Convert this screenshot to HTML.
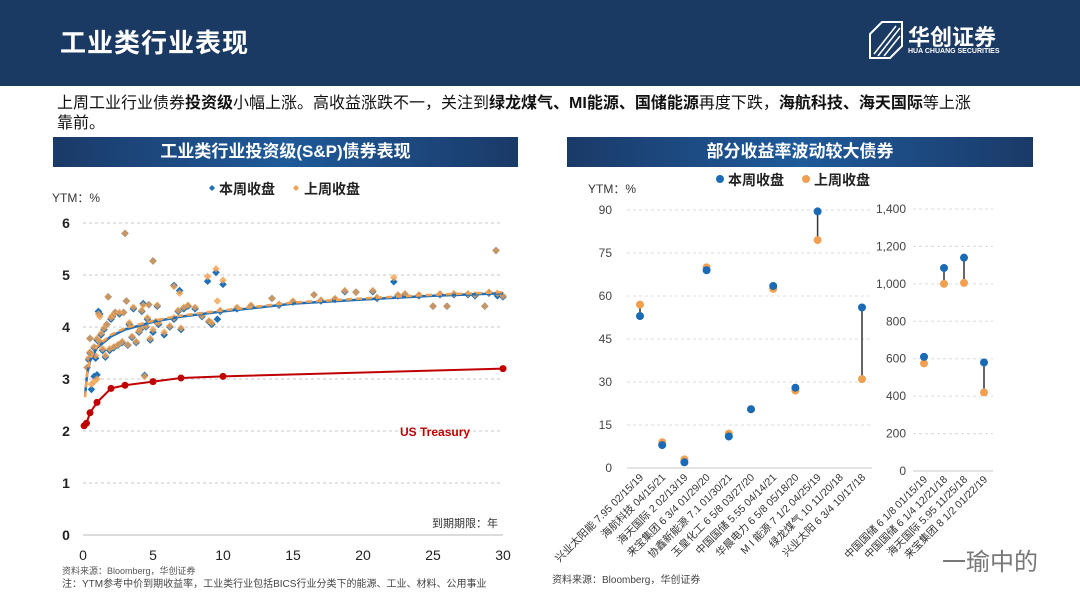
<!DOCTYPE html>
<html><head><meta charset="utf-8">
<style>
body{margin:0;width:1080px;height:608px;overflow:hidden;background:#fff;font-family:"Liberation Sans","Noto Sans CJK SC",sans-serif;position:relative}
.abs{position:absolute}
#header{left:0;top:0;width:1080px;height:86px;background:#1b3a63}
#title{left:60px;top:23px;color:#fff;font-size:26px;font-weight:bold;letter-spacing:1px}
.banner{top:137px;height:30px;background:linear-gradient(90deg,#1a3a68,#1f5a9a 50%,#1a3a68);color:#fff;font-size:17px;font-weight:bold;text-align:center;line-height:30px}
</style></head><body>
<div id="header" class="abs"></div>
<div id="title" class="abs">工业类行业表现</div>
<div class="abs" style="left:866px;top:20px;width:160px;height:40px">
 <svg width="40" height="40" style="position:absolute;left:0;top:0"><polygon points="4,38 4,14 16,2 36,2 36,26 24,38" fill="none" stroke="#fff" stroke-width="2"/><path d="M8 34 L30 6 M12 36 L34 8 M18 36 L34 16" stroke="#fff" stroke-width="1.5"/></svg>
 <div class="abs" style="left:42px;top:0;color:#fff;font-size:22px;font-weight:bold">华创证券</div>
 <div class="abs" style="left:42px;top:28px;color:#fff;font-size:7px;font-weight:bold;white-space:nowrap">HUA CHUANG SECURITIES</div>
</div>
<div class="abs" style="left:57px;top:94px;width:990px;font-size:16px;line-height:20px;color:#111;white-space:nowrap">上周工业行业债券<b>投资级</b>小幅上涨。高收益涨跌不一，关注到<b>绿龙煤气、MI能源、国储能源</b>再度下跌，<b>海航科技、海天国际</b>等上涨<br>靠前。</div>
<div class="abs banner" style="left:53px;width:465px">工业类行业投资级(S&amp;P)债券表现</div>
<div class="abs banner" style="left:567px;width:466px">部分收益率波动较大债券</div>
<svg id="chart" class="abs" style="left:0;top:0" width="1080" height="608"></svg>
<script>
// Left chart data
const mat=[3.0,5.0,29.5,9.5,8.9,10,6.5,6.9,22.2,1.8,3.1,4.3,4.7,1.1,1.2,2.3,2.9,13.5,16.5,18.7,19.5,20.7,25,26,28.7,30,0.8,1.0,0.6,4.4,0.3,0.4,0.5,0.5,0.8,1.0,1.3,1.5,1.7,2.0,2.1,1.4,1.6,1.9,2.2,2.5,2.8,3.2,3.5,3.8,4.0,4.2,4.5,4.8,5.0,5.2,5.4,5.8,6.2,6.5,6.8,7.0,7.2,7.5,8.0,8.5,9.0,9.2,9.6,9.8,11,12,14,15,17,18,21,22.5,23,24,25.5,26.5,27.5,28,29,29.6,0.9,1.2,2.6,3.3,3.6,4.1,4.6,5.3];
const ytmNow=[5.8,5.27,5.47,5.05,4.88,4.82,4.8,4.7,4.87,4.58,4.5,4.45,4.43,4.3,4.25,4.28,4.28,4.55,4.62,4.68,4.67,4.68,4.4,4.4,4.4,4.58,3.05,3.08,2.8,3.07,3.22,3.37,3.5,3.78,3.6,3.75,3.85,3.95,4.05,4.15,4.2,3.55,3.42,3.55,3.6,3.65,3.7,3.65,3.8,3.7,3.9,4.3,4.0,3.75,3.9,4.1,4.05,3.85,4.0,4.15,4.3,3.95,4.35,4.4,4.35,4.2,4.1,4.05,4.15,4.3,4.35,4.4,4.42,4.48,4.5,4.53,4.55,4.6,4.62,4.6,4.62,4.62,4.62,4.6,4.65,4.6,3.4,3.7,4.25,4.05,4.35,3.95,4.15,4.4];
const ytmPrev=[5.8,5.27,5.47,5.12,4.97,4.9,4.78,4.65,4.95,4.58,4.5,4.42,4.43,4.25,4.2,4.28,4.28,4.55,4.62,4.7,4.67,4.7,4.4,4.4,4.4,4.6,2.95,3.0,2.9,3.05,3.22,3.4,3.52,3.78,3.62,3.78,3.88,3.98,4.05,4.18,4.22,3.58,3.45,3.58,3.62,3.66,3.72,3.66,3.82,3.72,3.92,4.32,4.02,3.78,3.95,4.1,4.08,3.9,4.02,4.18,4.32,3.98,4.38,4.42,4.38,4.22,4.12,4.08,4.5,4.32,4.38,4.42,4.44,4.5,4.52,4.55,4.57,4.62,4.64,4.62,4.64,4.64,4.64,4.62,4.67,4.65,3.45,3.72,4.28,4.08,4.38,3.98,4.18,4.42];
const trendX=[0.15,0.3,0.5,1,2,3,5,7,10,15,20,25,30];
const trendNow=[2.7,3.1,3.35,3.6,3.82,3.95,4.1,4.2,4.3,4.45,4.53,4.6,4.65];
const trendPrev=[2.65,3.12,3.38,3.63,3.85,3.98,4.12,4.22,4.32,4.47,4.55,4.62,4.67];
const tsyX=[0.08,0.25,0.5,1,2,3,5,7,10,30];
const tsyY=[2.1,2.15,2.35,2.55,2.82,2.88,2.95,3.02,3.05,3.2];
const leftYTicks=[0,1,2,3,4,5,6];
const leftXTicks=[0,5,10,15,20,25,30];
// Right chart data
const bondsA=["兴业太阳能 7.95 02/15/19","海航科技  04/15/21","海天国际 2 02/13/19","来宝集团  6 3/4 01/29/20","协鑫新能源 7.1 01/30/21","玉皇化工  6 5/8 03/27/20","中国国储 5.55 04/14/21","华晨电力  6 5/8 05/18/20","M I 能源  7 1/2 04/25/19","绿龙煤气  10 11/20/18","兴业太阳 6 3/4 10/17/18"];
const nowA=[53,8,2,69,11,20.5,63.5,28,89.5,null,56];
const prevA=[57,9,3,70,12,20.5,62.5,27,79.5,null,31];
const bondsB=["中国国储 6 1/8 01/15/19","中国国储 6 1/4 12/21/18","海天国际 5.95 11/25/18","来宝集团 8 1/2 01/22/19"];
const nowB=[610,1085,1140,580];
const prevB=[575,1000,1005,420];
const ticksA=[0,15,30,45,60,75,90];
const ticksB=[0,200,400,600,800,1000,1200,1400];

const svg=document.getElementById('chart');const NS='http://www.w3.org/2000/svg';
function mk(t,a,txt){const e=document.createElementNS(NS,t);for(const k in a)e.setAttribute(k,a[k]);if(txt!==undefined)e.textContent=txt;svg.appendChild(e);return e;}
const BLUE='#1f6fb8',ORANGE='#f0a050',RED='#c00000';
const lx=v=>83+v*14, ly=v=>535-v*52;
leftYTicks.forEach(t=>{
 if(t>0){const g=mk('line',{x1:lx(0),x2:lx(30),y1:ly(t),y2:ly(t),stroke:'#c8c8c8','stroke-dasharray':'3,3'});}
 const l=mk('text',{x:66,y:ly(t)+5,'font-size':14,'font-weight':'bold',fill:'#222','text-anchor':'middle'},t);
 
});
const ax=mk('line',{x1:lx(0),x2:lx(30),y1:ly(0),y2:ly(0),stroke:'#d0d0d0','stroke-width':1.5});

leftXTicks.forEach(t=>{const l=mk('text',{x:lx(t),y:560,'font-size':14,fill:'#222','text-anchor':'middle'},t);
 });
function diamond(x,y,c,nm){const s=3.8;const p=mk('polygon',{points:`${x},${y-s} ${x+s},${y} ${x},${y+s} ${x-s},${y}`,fill:c});}
mat.forEach((m,i)=>diamond(lx(m),ly(ytmNow[i]),BLUE,'point-this-week'));
mat.forEach((m,i)=>diamond(lx(m),ly(ytmPrev[i]),'rgba(240,160,80,0.8)','point-last-week'));
const tn=mk('polyline',{points:trendX.map((x,i)=>lx(x)+','+ly(trendNow[i])).join(' '),fill:'none',stroke:BLUE,'stroke-width':2.5});

const tp=mk('polyline',{points:trendX.map((x,i)=>lx(x)+','+ly(trendPrev[i])).join(' '),fill:'none',stroke:ORANGE,'stroke-width':2.5,'stroke-dasharray':'6,4'});

const ts=mk('polyline',{points:tsyX.map((x,i)=>lx(x)+','+ly(tsyY[i])).join(' '),fill:'none',stroke:RED,'stroke-width':2});

tsyX.forEach((x,i)=>{const c=mk('circle',{cx:lx(x),cy:ly(tsyY[i]),r:3.5,fill:RED});});
const ra=i=>640+i*22.2, ryA=v=>468-v*(258/90);
const rb=i=>924+i*20, ryB=v=>471-v*(262/1400);
ticksA.forEach(t=>{const g=mk('line',{x1:627,x2:872,y1:ryA(t),y2:ryA(t),stroke:t?'#dcdcdc':'#c8c8c8','stroke-dasharray':t?'3,3':''});
 
 const l=mk('text',{x:612,y:ryA(t)+4,'font-size':12,fill:'#444','text-anchor':'end'},t);
 });
ticksB.forEach(t=>{const g=mk('line',{x1:913,x2:993,y1:ryB(t),y2:ryB(t),stroke:t?'#dcdcdc':'#c8c8c8','stroke-dasharray':t?'3,3':''});
 
 const l=mk('text',{x:906,y:ryB(t)+4,'font-size':12,fill:'#444','text-anchor':'end'},t.toLocaleString('en-US'));
 });
function dumb(x,yn,yp){if(yn==null)return;
 const l=mk('line',{x1:x,x2:x,y1:yn,y2:yp,stroke:'#333','stroke-width':1.5});
 const o=mk('circle',{cx:x,cy:yp,r:4,fill:ORANGE});
 const b=mk('circle',{cx:x,cy:yn,r:4,fill:'#1a6ab5'});}
nowA.forEach((v,i)=>dumb(ra(i),v==null?null:ryA(v),v==null?null:ryA(prevA[i])));
nowB.forEach((v,i)=>dumb(rb(i),ryB(v),ryB(prevB[i])));
bondsA.forEach((n,i)=>{const x=ra(i)+4;const t=mk('text',{x:x,y:478,'font-size':10.5,fill:'#333','text-anchor':'end',transform:`rotate(-45 ${x} 478)`},n);
 });
bondsB.forEach((n,i)=>{const x=rb(i)+4;const t=mk('text',{x:x,y:480,'font-size':10.5,fill:'#333','text-anchor':'end',transform:`rotate(-45 ${x} 480)`},n);
 });
function txt(x,y,s,t,extra,nm){const e=mk('text',Object.assign({x:x,y:y,'font-size':s,fill:'#333'},extra||{}),t);return e;}
txt(52,202,12,'YTM：%',{},'left-y-axis-title');
txt(588,193,12,'YTM：%',{},'right-y-axis-title');
txt(432,527,11,'到期期限：年',{},'left-x-axis-title');
txt(400,436,12,'US Treasury',{fill:RED,'font-weight':'bold'},'us-treasury-label');
txt(62,574,9,'资料来源：Bloomberg，华创证券',{fill:'#555'},'left-source');
txt(62,587,10,'注：YTM参考中价到期收益率，工业类行业包括BICS行业分类下的能源、工业、材料、公用事业',{fill:'#444'},'left-note');
txt(552,583,10,'资料来源：Bloomberg，华创证券',{fill:'#444'},'right-source');
txt(942,570,24,'一瑜中的',{fill:'#777'},'watermark');
const lg1=mk('polygon',{points:'212,185 215,188 212,191 209,188',fill:BLUE});
txt(219,194,14,'本周收盘',{'font-weight':'bold',fill:'#222'},'legend-this-week');
const lg2=mk('polygon',{points:'296,185 299,188 296,191 293,188',fill:ORANGE});
txt(304,194,14,'上周收盘',{'font-weight':'bold',fill:'#222'},'legend-last-week');
const lg3=mk('circle',{cx:720,cy:179,r:4,fill:'#1a6ab5'});
txt(728,185,14,'本周收盘',{'font-weight':'bold',fill:'#222'},'legend2-this-week');
const lg4=mk('circle',{cx:806,cy:179,r:4,fill:ORANGE});
txt(814,185,14,'上周收盘',{'font-weight':'bold',fill:'#222'},'legend2-last-week');
</script>
</body></html>
